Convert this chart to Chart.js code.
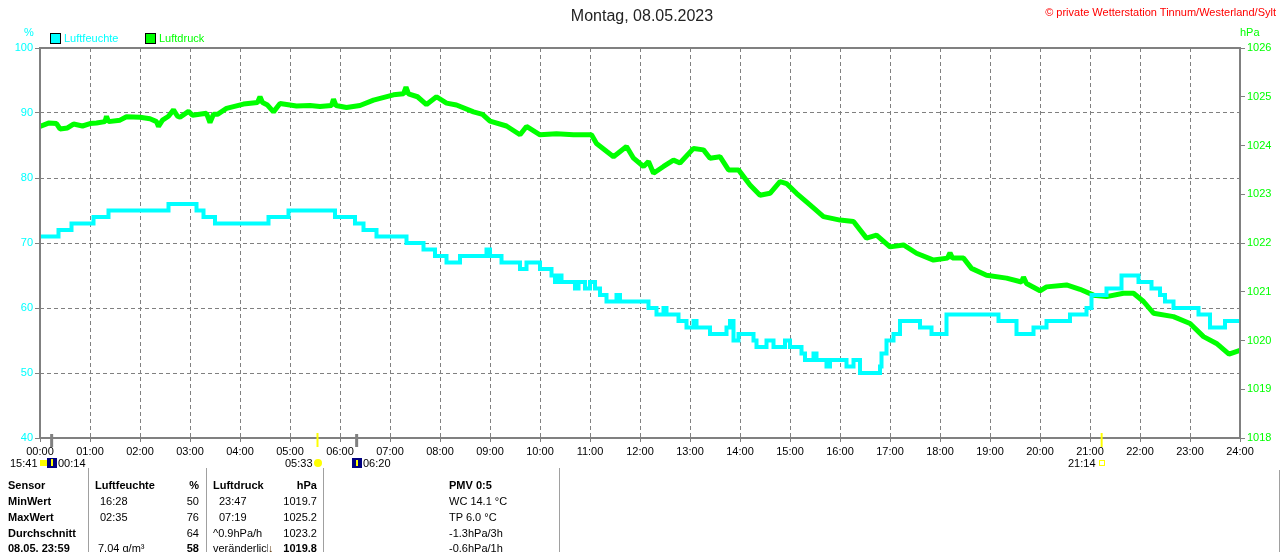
<!DOCTYPE html>
<html>
<head>
<meta charset="utf-8">
<script src="https://cdn.jsdelivr.net/npm/chart.js@4.4.0/dist/chart.umd.min.js"></script>
<style>
body { margin: 0; background: #fff; }
#wrap { position: relative; width: 1280px; height: 552px; overflow: hidden;
        font-family: "Liberation Sans", Arial, sans-serif; font-size: 11px; color: #000; }
canvas { position: absolute; left: 0; top: 0; display: block; }
.t { position: absolute; white-space: nowrap; line-height: 13px; }
.b { font-weight: bold; }
.vl { position: absolute; width: 1px; background: #a0a0a0; }
</style>
</head>
<body>
<div id="wrap"><canvas id="myChart" width="1280" height="552"></canvas></div>
<script>
// ---- data (hours since midnight) ----
const hourLabels = ["00:00","01:00","02:00","03:00","04:00","05:00","06:00","07:00","08:00",
  "09:00","10:00","11:00","12:00","13:00","14:00","15:00","16:00","17:00","18:00","19:00",
  "20:00","21:00","22:00","23:00","24:00"];

// humidity %, value changes to humValues[i] at humHours[i]
const humHours = [0.00,0.37,0.63,1.07,1.37,2.57,3.13,3.27,3.50,4.57,4.97,5.90,6.30,6.47,6.73,
  7.33,7.67,7.90,8.13,8.40,8.93,9.00,9.23,9.60,9.73,10.00,10.23,10.30,10.37,10.43,10.70,10.77,
  10.90,11.00,11.10,11.20,11.33,11.53,11.60,12.17,12.33,12.47,12.53,12.77,12.93,13.07,13.13,
  13.40,13.73,13.80,13.87,13.97,14.27,14.33,14.53,14.67,14.90,15.00,15.23,15.30,15.47,15.53,
  15.73,15.80,16.13,16.27,16.40,16.80,16.83,16.93,17.07,17.20,17.60,17.83,18.13,19.17,19.53,
  19.87,20.13,20.60,20.93,21.03,21.33,21.63,21.97,22.23,22.40,22.50,22.67,23.17,23.40,23.70,24.00];
const humValues = [71,72,73,74,75,76,75,74,73,74,75,74,73,72,71,
  70,69,68,67,68,69,68,67,66,67,66,65,64,65,64,63,64,
  63,64,63,62,61,62,61,60,59,60,59,58,57,58,57,
  56,57,58,55,56,55,54,55,54,55,54,53,52,53,52,
  51,52,51,52,50,51,53,55,56,58,57,56,59,58,56,
  57,58,59,60,62,63,65,64,63,62,61,60,59,57,58,58];

// air pressure hPa
const presHours = [0.00,0.17,0.33,0.40,0.55,0.67,0.85,1.00,1.13,1.30,1.33,1.37,1.60,1.73,2.00,
  2.20,2.33,2.37,2.45,2.57,2.67,2.75,2.80,2.97,3.05,3.33,3.40,3.47,3.55,3.73,4.07,4.35,4.40,
  4.45,4.55,4.67,4.80,5.13,5.40,5.60,5.83,5.87,5.92,6.13,6.40,6.67,7.07,7.27,7.32,7.37,7.55,
  7.73,7.93,8.13,8.33,8.67,8.85,9.00,9.33,9.60,9.73,10.00,10.33,10.67,11.03,11.13,11.47,11.73,
  11.87,12.07,12.17,12.27,12.47,12.67,12.80,13.07,13.27,13.40,13.60,13.77,13.97,14.20,14.40,
  14.60,14.80,14.93,15.13,15.40,15.67,16.00,16.27,16.53,16.73,17.00,17.27,17.53,17.87,18.15,
  18.20,18.25,18.47,18.63,18.93,19.33,19.63,19.67,19.73,20.00,20.13,20.53,20.80,21.07,21.33,
  21.67,21.87,22.07,22.27,22.67,23.00,23.27,23.53,23.78,24.00];
const presValues = [1024.39,1024.46,1024.45,1024.34,1024.36,1024.44,1024.40,1024.45,1024.46,
  1024.49,1024.60,1024.49,1024.52,1024.59,1024.58,1024.55,1024.49,1024.39,1024.52,1024.60,
  1024.73,1024.60,1024.58,1024.70,1024.62,1024.66,1024.47,1024.64,1024.64,1024.76,1024.85,
  1024.88,1025.00,1024.88,1024.83,1024.69,1024.86,1024.81,1024.82,1024.80,1024.82,1024.95,
  1024.82,1024.78,1024.82,1024.93,1025.04,1025.06,1025.20,1025.06,1025.00,1024.84,1025.00,
  1024.87,1024.83,1024.69,1024.64,1024.50,1024.40,1024.22,1024.39,1024.22,1024.24,1024.22,
  1024.22,1024.04,1023.77,1023.98,1023.74,1023.57,1023.67,1023.43,1023.57,1023.70,1023.64,
  1023.94,1023.91,1023.74,1023.77,1023.50,1023.50,1023.19,1022.98,1023.02,1023.26,1023.22,
  1023.02,1022.78,1022.54,1022.47,1022.44,1022.10,1022.16,1021.92,1021.96,1021.79,1021.65,
  1021.69,1021.80,1021.69,1021.69,1021.48,1021.34,1021.28,1021.20,1021.30,1021.17,1021.02,
  1021.10,1021.14,1021.05,1020.93,1020.90,1020.97,1020.97,1020.80,1020.56,1020.49,1020.35,
  1020.08,1019.94,1019.72,1019.80];

// sun / moon events (hours)
const sunTimes = [5.55, 21.233];
const moonTimes = [0.233, 6.333];

const toXY = (xs, ys) => xs.map((x, i) => ({ x: x, y: ys[i] }));
const tickFont = { family: "'Liberation Sans', Arial, sans-serif", size: 11 };

/*------------------ frame + event markers ------------------*/
const framePlugin = {
  id: 'frame',
  afterDraw(chart) {
    const { ctx, chartArea: a, scales } = chart;
    ctx.save();
    ctx.strokeStyle = '#808080';
    ctx.lineWidth = 2;
    ctx.strokeRect(a.left, a.top, a.right - a.left, a.bottom - a.top);
    ctx.lineWidth = 3;
    moonTimes.forEach(t => {
      const x = scales.x.getPixelForValue(t);
      ctx.beginPath(); ctx.moveTo(x, 434); ctx.lineTo(x, 447); ctx.stroke();
    });
    ctx.strokeStyle = '#ffff00';
    ctx.lineWidth = 2;
    sunTimes.forEach(t => {
      const x = scales.x.getPixelForValue(t);
      ctx.beginPath(); ctx.moveTo(x, 433); ctx.lineTo(x, 447); ctx.stroke();
    });
    ctx.restore();
  }
};

const ctx = document.getElementById('myChart').getContext('2d');
new Chart(ctx, {
  type: 'line',
  data: {
    datasets: [
      {
        label: 'Luftfeuchte',
        data: toXY(humHours, humValues),
        yAxisID: 'y',
        borderColor: '#00ffff',
        borderWidth: 4,
        stepped: true,
        pointRadius: 0,
        fill: false,
      },
      {
        label: 'Luftdruck',
        data: toXY(presHours, presValues),
        yAxisID: 'y1',
        borderColor: '#00ff00',
        borderWidth: 5,
        borderJoinStyle: 'bevel',
        tension: 0,
        pointRadius: 0,
        fill: false,
      },
    ],
  },
  options: {
    responsive: false,
    animation: false,
    devicePixelRatio: 1,
    layout: { padding: { top: 48, left: 0, right: 0, bottom: 0 } },
    plugins: { legend: { display: false }, tooltip: { enabled: false } },
    scales: {
      x: {
        type: 'linear', min: 0, max: 24,
        afterFit: s => { s.height = 114; },
        afterBuildTicks: s => { s.ticks = hourLabels.map((l, i) => ({ value: i })); },
        ticks: { autoSkip: false, maxRotation: 0, color: '#000', font: tickFont, padding: 3,
                 callback: v => hourLabels[v] },
        grid: { color: '#808080', lineWidth: 1, tickLength: 4, tickColor: '#808080', tickBorderDash: [] },
        border: { display: false, dash: [4, 3] },
      },
      y: {
        position: 'left', min: 40, max: 100,
        afterFit: s => { s.width = 40; },
        ticks: { stepSize: 10, color: '#00ffff', font: tickFont, padding: 2, callback: v => String(v) },
        grid: { color: '#808080', lineWidth: 1, tickLength: 5, tickColor: '#808080', tickBorderDash: [] },
        border: { display: false, dash: [4, 3] },
      },
      y1: {
        position: 'right', min: 1018, max: 1026,
        afterFit: s => { s.width = 40; },
        ticks: { stepSize: 1, color: '#00ff00', font: tickFont, padding: 2, callback: v => String(v) },
        grid: { drawOnChartArea: false, tickLength: 5, tickColor: '#808080' },
        border: { display: false },
      },
    },
  },
  plugins: [framePlugin],
});

/*------------------ texts around the plot ------------------*/
const wrap = document.getElementById('wrap');
function put(text, x, y, opt) {
  opt = opt || {};
  const d = document.createElement('div');
  d.className = 't' + (opt.bold ? ' b' : '');
  d.textContent = text;
  d.style.top = (y - 6.5) + 'px';
  if (opt.right) d.style.right = (1280 - x) + 'px'; else d.style.left = x + 'px';
  if (opt.color) d.style.color = opt.color;
  if (opt.size) d.style.fontSize = opt.size + 'px';
  if (opt.center) { d.style.left = x + 'px'; d.style.transform = 'translateX(-50%)'; }
  wrap.appendChild(d);
  return d;
}
function box(x, y, w, h, bg, border) {
  const d = document.createElement('div');
  d.style.cssText = 'position:absolute;left:' + x + 'px;top:' + y + 'px;width:' + w + 'px;height:' + h +
    'px;background:' + bg + ';' + (border ? 'border:' + border + ';' : '') + 'box-sizing:border-box;';
  wrap.appendChild(d);
  return d;
}
function vline(x, y1, y2) {
  const d = document.createElement('div');
  d.className = 'vl';
  d.style.left = x + 'px'; d.style.top = y1 + 'px'; d.style.height = (y2 - y1) + 'px';
  wrap.appendChild(d);
}

put('Montag, 08.05.2023', 642, 15, { center: true, size: 16, color: '#222' });
put('\u00a9 private Wetterstation Tinnum/Westerland/Sylt', 1276, 12, { right: true, color: '#ff0000' });
put('%', 24, 32, { color: '#00ffff' });
put('hPa', 1240, 32, { color: '#00ff00' });
box(50, 33, 11, 11, '#00ffff', '1px solid #000');
put('Luftfeuchte', 64, 38, { color: '#00ffff' });
box(145, 33, 11, 11, '#00ff00', '1px solid #000');
put('Luftdruck', 159, 38, { color: '#00ff00' });

// sun / moon row
put('15:41', 10, 463);
box(40, 460, 8, 6, '#ffff00');
box(47, 458, 10, 10, '#000080');
box(51, 459, 2, 7, '#ffff00');
put('00:14', 58, 463);
put('05:33', 285, 463);
const sun = box(314, 459, 8, 8, '#ffff00'); sun.style.borderRadius = '50%';
box(352, 458, 10, 10, '#000080');
box(356, 460, 2, 6, '#ffff00');
put('06:20', 363, 463);
put('21:14', 1068, 463);
box(1099, 460, 6, 6, 'transparent', '1px solid #ffff00');

// table
[88, 206, 323, 559].forEach(x => vline(x, 468, 552));
vline(1279, 470, 552);

const rowY = [485, 501, 517, 533, 548];
['Sensor', 'MinWert', 'MaxWert', 'Durchschnitt', '08.05. 23:59'].forEach((s, i) => put(s, 8, rowY[i], { bold: true }));

put('Luftfeuchte', 95, rowY[0], { bold: true });
put('%', 199, rowY[0], { bold: true, right: true });
put('16:28', 100, rowY[1]);
put('02:35', 100, rowY[2]);
put('7.04 g/m\u00b3', 98, rowY[4]);
put('50', 199, rowY[1], { right: true });
put('76', 199, rowY[2], { right: true });
put('64', 199, rowY[3], { right: true });
put('58', 199, rowY[4], { right: true, bold: true });

put('Luftdruck', 213, rowY[0], { bold: true });
put('hPa', 317, rowY[0], { bold: true, right: true });
put('23:47', 219, rowY[1]);
put('07:19', 219, rowY[2]);
put('^0.9hPa/h', 213, rowY[3]);
put('ver\u00e4nderlich', 213, rowY[4]);
box(268, 541, 8, 12, '#ffffff');
put('\u2193', 268, rowY[4], { bold: true, color: '#5a3000' });
put('1025.2', 317, rowY[2], { right: true });
put('1019.7', 317, rowY[1], { right: true });
put('1023.2', 317, rowY[3], { right: true });
put('1019.8', 317, rowY[4], { right: true, bold: true });

put('PMV 0:5', 449, rowY[0], { bold: true });
put('WC 14.1 \u00b0C', 449, rowY[1]);
put('TP 6.0 \u00b0C', 449, rowY[2]);
put('-1.3hPa/3h', 449, rowY[3]);
put('-0.6hPa/1h', 449, rowY[4]);
</script>
</body>
</html>
